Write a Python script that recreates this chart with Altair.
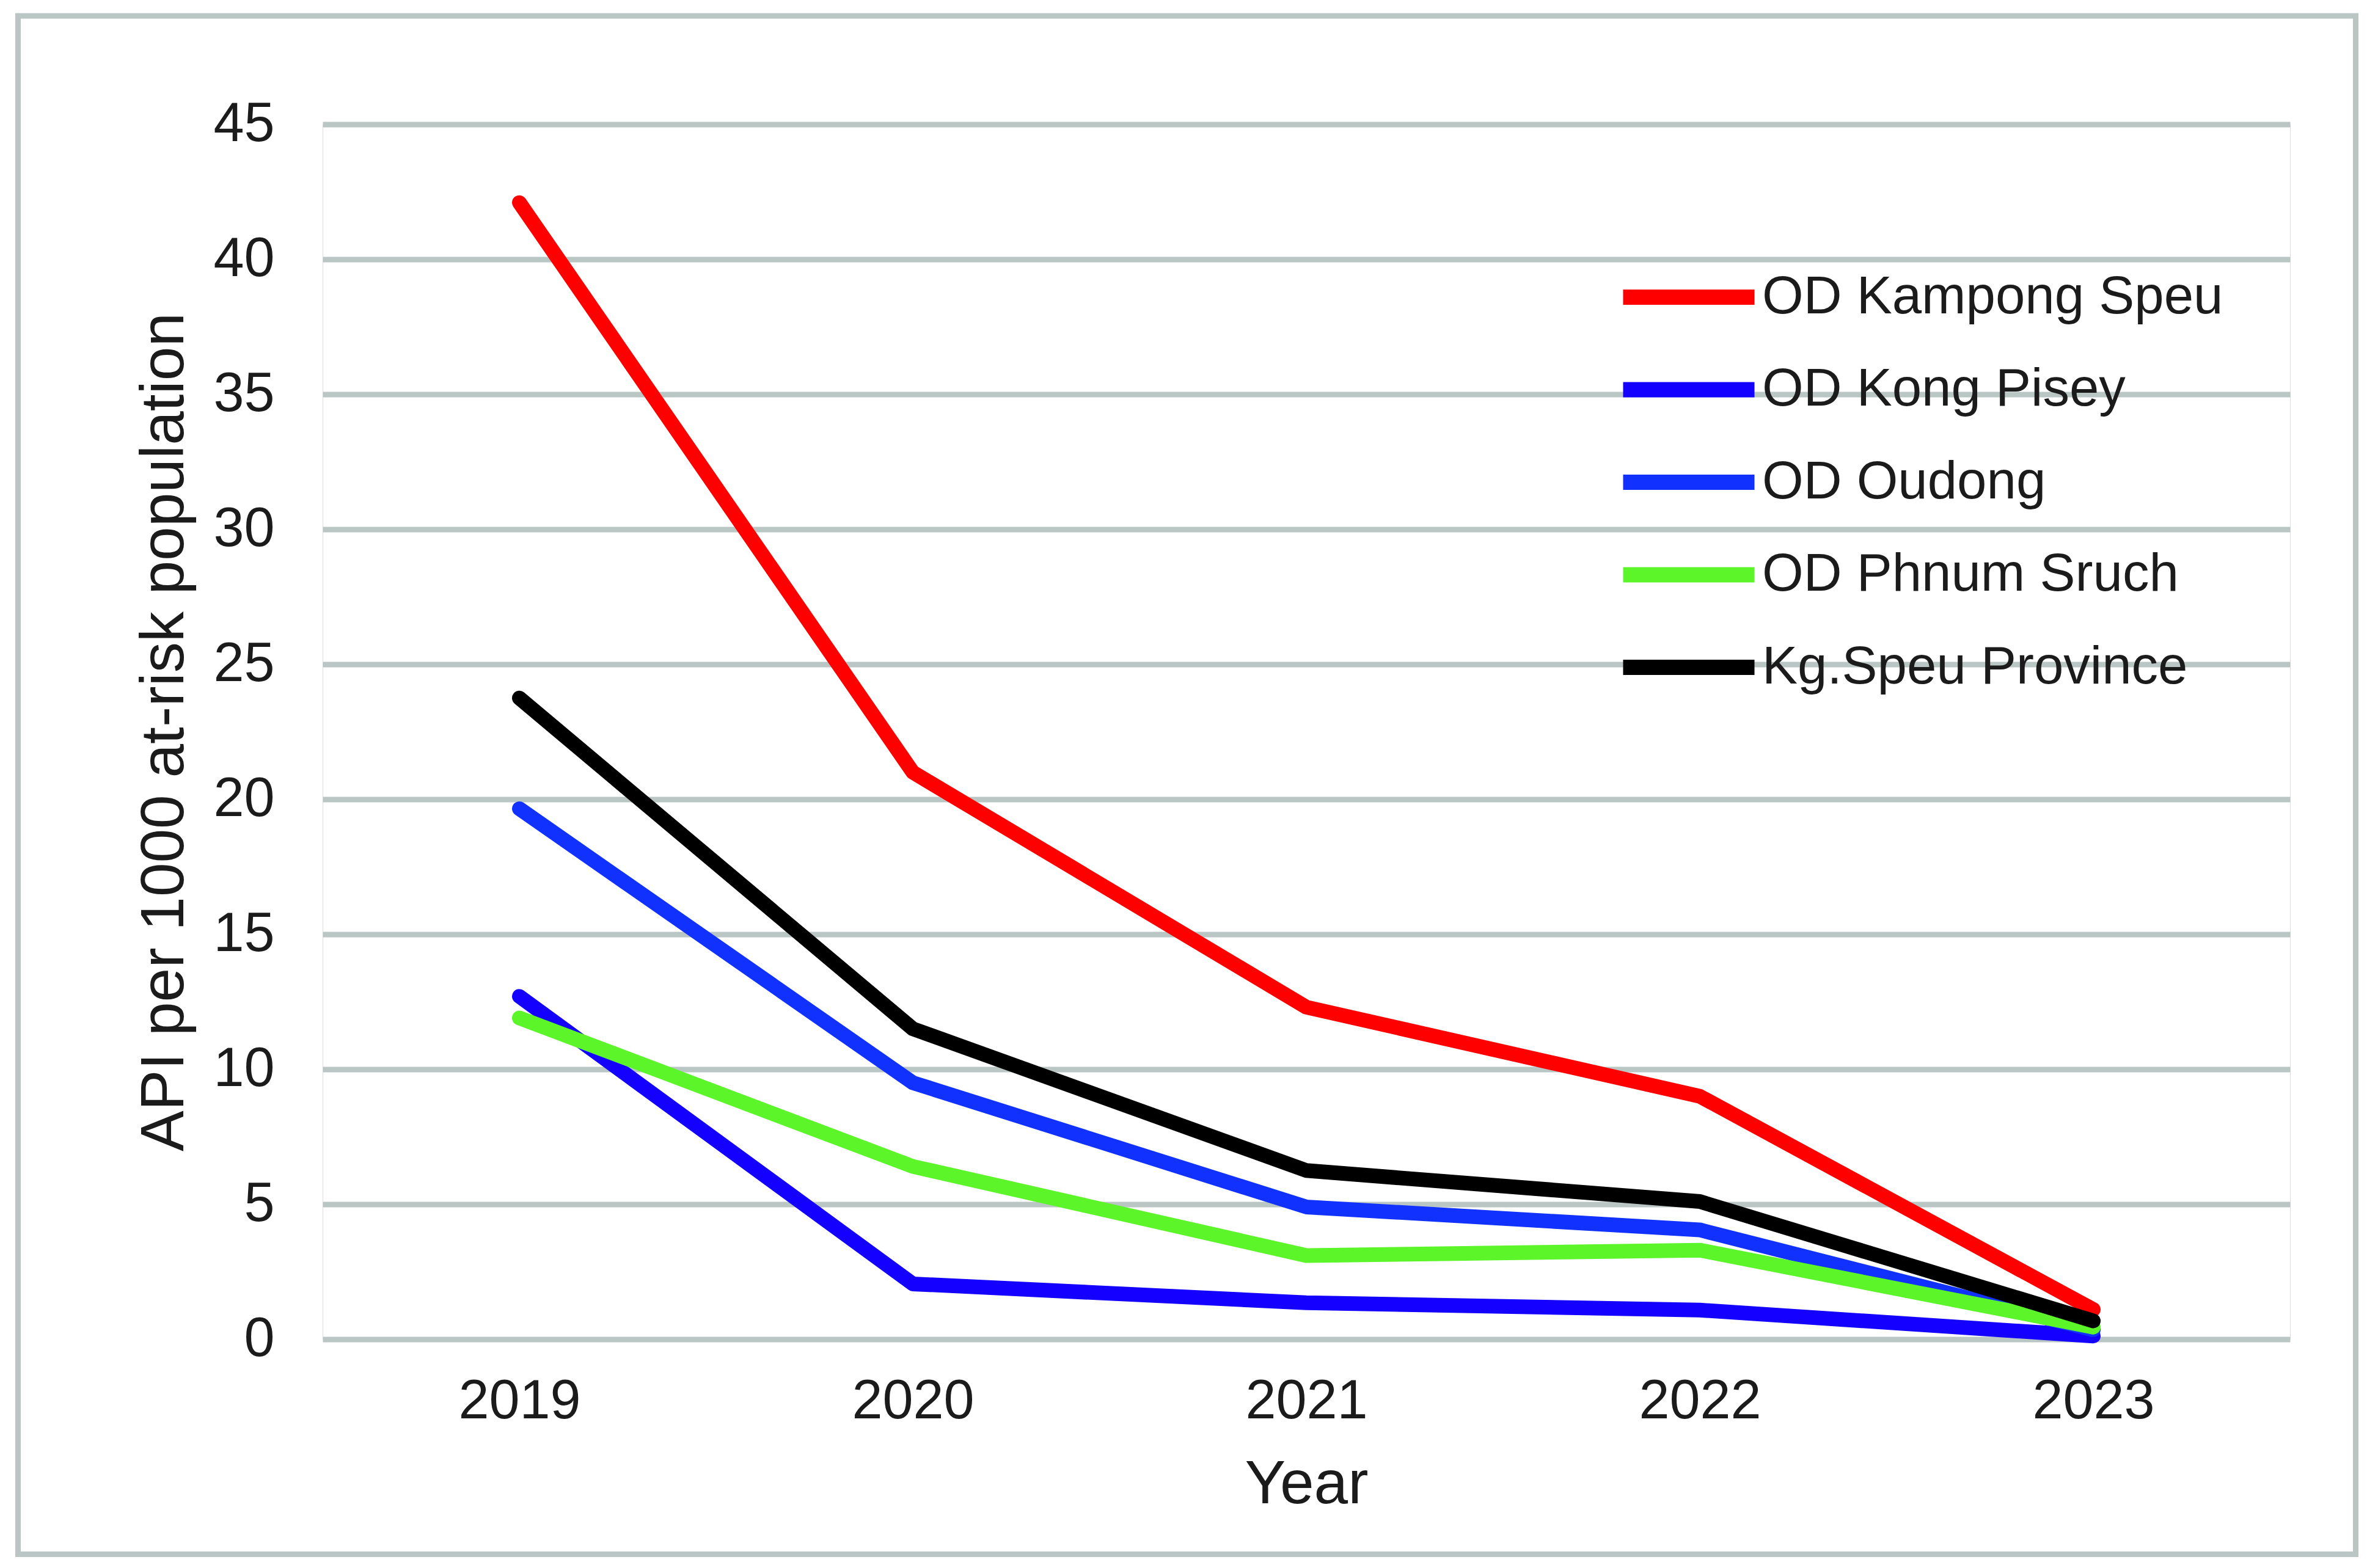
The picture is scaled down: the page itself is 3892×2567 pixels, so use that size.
import altair as alt
import pandas as pd

years = ["2019", "2020", "2021", "2022", "2023"]
series_names = ["OD Kampong Speu", "OD Kong Pisey", "OD Oudong", "OD Phnum Sruch", "Kg.Speu Province"]
kampong_speu = [42.1, 21.0, 12.3, 9.0, 1.1]
kong_pisey = [12.7, 2.05, 1.35, 1.08, 0.12]
oudong = [19.65, 9.5, 4.9, 4.05, 0.35]
phnum_sruch = [11.9, 6.4, 3.1, 3.3, 0.45]
province = [23.75, 11.5, 6.25, 5.1, 0.68]
y_ticks = [0, 5, 10, 15, 20, 25, 30, 35, 40, 45]
colors = ["#FF0000", "#1400FF", "#1131FF", "#5CF52A", "#000000"]

rows = []
for name, vals in zip(series_names, [kampong_speu, kong_pisey, oudong, phnum_sruch, province]):
    for i, (yr, v) in enumerate(zip(years, vals)):
        rows.append({"Year": yr, "Series": name, "Value": v, "order": series_names.index(name)})
df = pd.DataFrame(rows)

FONT = "Liberation Sans"
TXT = "#1b1b1b"
GRID = "#BAC6C4"
W, H = 3220, 1989

lines = alt.Chart(df).mark_line(strokeWidth=24, strokeCap="round", strokeJoin="round").encode(
    x=alt.X("Year:N", sort=years,
            scale=alt.Scale(type="point", padding=0.5),
            axis=alt.Axis(title="Year", labelAngle=0, grid=False, domain=False, ticks=False, tickSize=0,
                          labelFontSize=90, labelPadding=58, labelLimit=1000,
                          titleFontSize=100, titlePadding=42,
                          labelColor=TXT, titleColor=TXT, labelFont=FONT, titleFont=FONT,
                          titleFontWeight="normal")),
    y=alt.Y("Value:Q", scale=alt.Scale(domain=[0, 45], nice=False, zero=True),
            axis=alt.Axis(title="API per 1000 at-risk population", values=y_ticks, grid=True,
                          gridColor=GRID, gridWidth=9, gridOpacity=1, domain=False, ticks=False, tickSize=0,
                          labelFontSize=90, labelPadding=79, labelLimit=1000,
                          titleFontSize=100, titlePadding=28,
                          labelColor=TXT, titleColor=TXT, labelFont=FONT, titleFont=FONT,
                          titleFontWeight="normal")),
    color=alt.Color("Series:N", sort=series_names,
                    scale=alt.Scale(domain=series_names, range=colors),
                    legend=alt.Legend(title=None, orient="none", legendX=2106, legendY=233,
                                      symbolType="stroke", symbolSize=46225, symbolStrokeWidth=25,
                                      symbolOffset=10,
                                      clipHeight=100, rowPadding=51.5, padding=0,
                                      labelFontSize=87, labelOffset=0, labelFont=FONT, labelColor=TXT,
                                      labelLimit=2000)),
    order=alt.Order("order:Q"),
    detail="Series:N",
)

frame = alt.Chart(alt.Data(values=[{}])).mark_rect(
    fill="white", fillOpacity=0, stroke=GRID, strokeWidth=9
).encode(
    x=alt.value(-498.5), x2=alt.value(3327.5), y=alt.value(-177.5), y2=alt.value(2341)
)

chart = alt.layer(frame, lines).properties(
    width=W, height=H, padding={"left": 25, "top": 21.5, "right": 0, "bottom": 0},
    background="white"
).configure_view(stroke=None).configure(font=FONT)

chart.save("out.html", embed_options={"renderer": "svg", "actions": False})
